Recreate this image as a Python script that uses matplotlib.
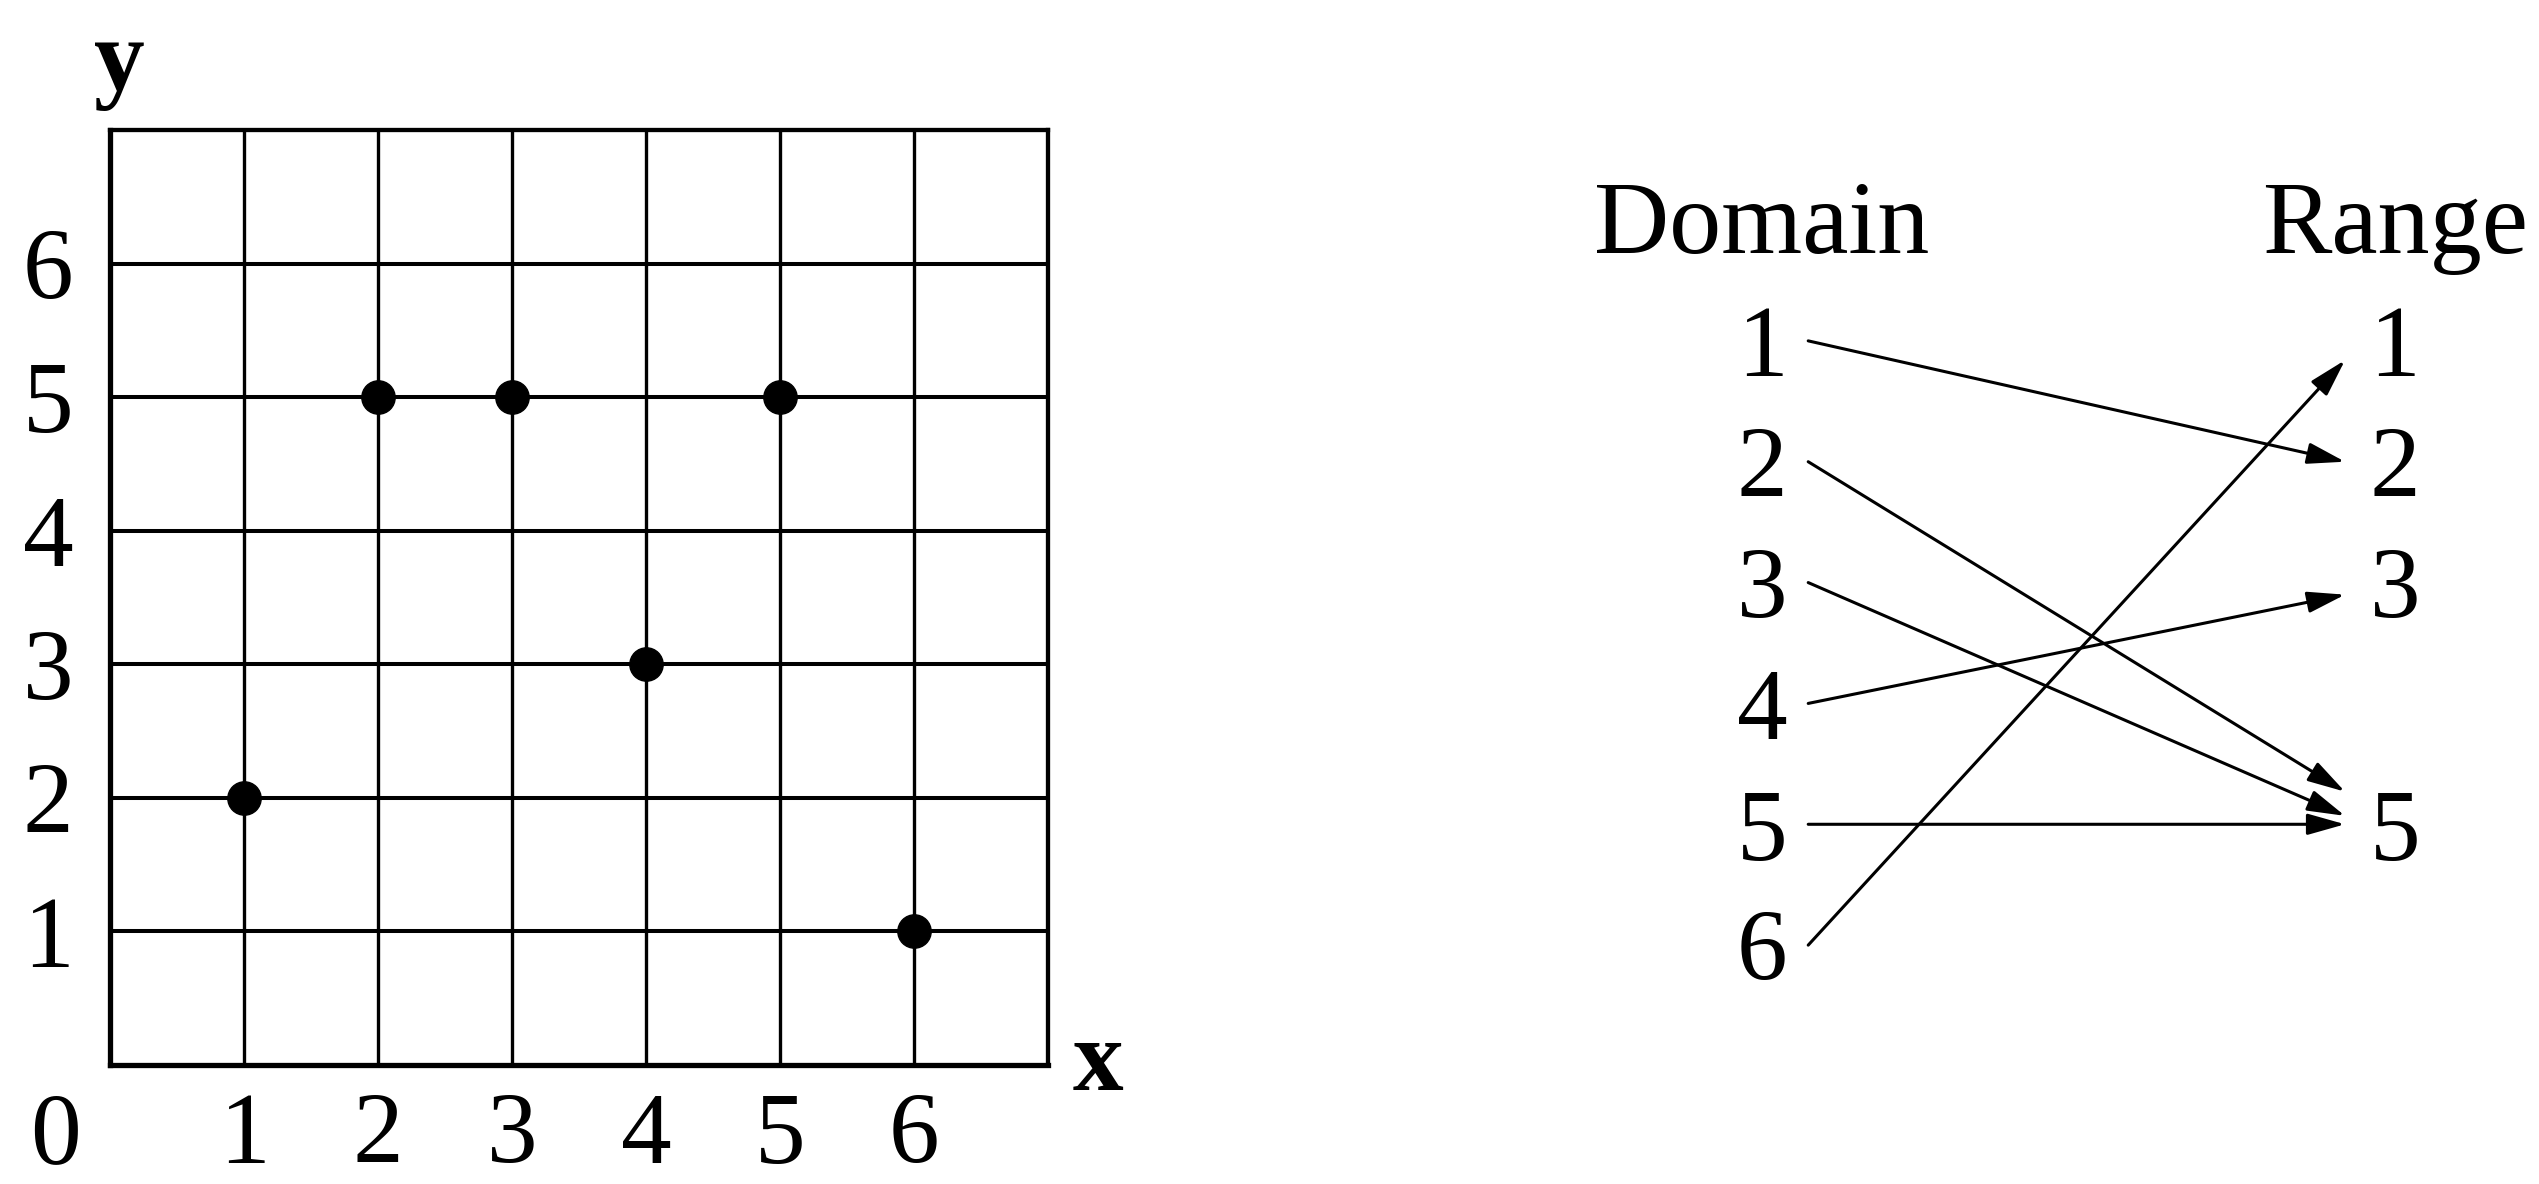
import matplotlib
matplotlib.use('Agg')
import matplotlib.pyplot as plt
from matplotlib.patches import FancyArrowPatch

plt.rcParams['font.family'] = ['Liberation Serif', 'DejaVu Serif']

# points of the relation (x -> y)
x_vals = [1, 2, 3, 4, 5, 6]
y_vals = [2, 5, 5, 3, 5, 1]

# mapping diagram
domain_vals = [1, 2, 3, 4, 5, 6]
range_vals = [1, 2, 3, 5]
grid_ticks = [1, 2, 3, 4, 5, 6]
tick_labels = ['1', '2', '3', '4', '5', '6']

W, H = 2539, 1184
fig = plt.figure(figsize=(W / 100, H / 100), dpi=100)

FS = 73

# left: grid with points
left, right, top, bottom = 110, 1048, 130, 1065
ax = fig.add_axes([left / W, (H - bottom) / H, (right - left) / W, (bottom - top) / H])
ax.set_xlim(0, 7)
ax.set_ylim(0, 7)
ax.set_xticks(grid_ticks, labels=tick_labels)
ax.set_yticks(grid_ticks, labels=tick_labels)
ax.tick_params(length=0, labelsize=FS)
ax.tick_params(axis='x', pad=20)
ax.tick_params(axis='y', pad=44.6)
plt.setp(ax.get_yticklabels(), ha='center')
ax.xaxis.grid(True, color='black', lw=2.4)
ax.yaxis.grid(True, color='black', lw=2.9)
ax.set_axisbelow(True)
for side in ['left', 'bottom']:
    ax.spines[side].set_linewidth(3.8)
for side in ['top', 'right']:
    ax.spines[side].set_linewidth(3.1)

ax.plot(x_vals, y_vals, 'o', color='black', markersize=24, linestyle='none',
        zorder=5, clip_on=False)

# origin label and axis names
ax.annotate('0', xy=(-0.41, 0), xytext=(0, -20), textcoords='offset points',
            ha='center', va='top', fontsize=FS, annotation_clip=False)
ax.text(0.07, 7.31, 'y', ha='center', va='baseline', fontsize=FS, fontweight='bold')
ax.text(7.37, -0.19, 'x', ha='center', va='baseline', fontsize=FS, fontweight='bold')

# right: domain -> range mapping
col0, col1 = 1762, 2395
row_top, row_bot = 220, 1066
ax2 = fig.add_axes([col0 / W, (H - row_bot) / H, (col1 - col0) / W, (row_bot - row_top) / H])
ax2.set_xlim(0, 1)
ax2.set_ylim(7, 0)
ax2.axis('off')

ax2.text(0, 0.27, 'Domain', ha='center', va='baseline', fontsize=75)
ax2.text(1, 0.27, 'Range', ha='center', va='baseline', fontsize=75)

for d in domain_vals:
    ax2.text(0, d, str(d), ha='center', va='center_baseline', fontsize=FS)
for r in range_vals:
    ax2.text(1, r, str(r), ha='center', va='center_baseline', fontsize=FS)

# arrow ends, nudged so heads into the same number don't overlap
arrow_x0, arrow_x1 = 0.073, 0.921
tip_nudge = [0.0, -0.27, -0.07, 0.1, 0.0, 0.16]
for d, r, nudge in zip(x_vals, y_vals, tip_nudge):
    arr = FancyArrowPatch((arrow_x0, d), (arrow_x1, r + nudge),
                          arrowstyle='-|>,head_length=23,head_width=6.5',
                          mutation_scale=1, lw=2.2, color='black',
                          shrinkA=0, shrinkB=0)
    ax2.add_patch(arr)

fig.savefig('out.png', dpi=100)
